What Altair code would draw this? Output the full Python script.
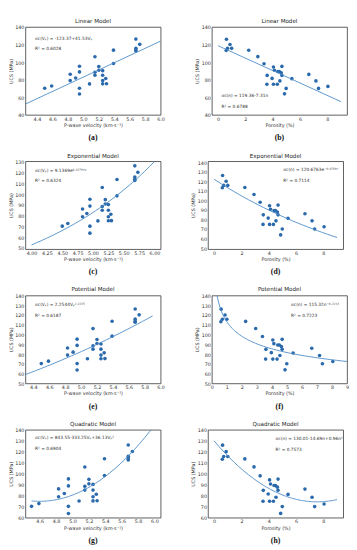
import altair as alt
import pandas as pd

# ---- data ----
vp = [4.50, 4.59, 4.83, 4.83, 4.90, 4.95, 4.95, 4.95, 4.95, 5.08, 5.15, 5.15, 5.15, 5.20,
      5.20, 5.25, 5.25, 5.25, 5.25, 5.29, 5.30, 5.39, 5.39, 5.68, 5.68, 5.68, 5.68, 5.73]
ucs_vp = [70.3, 72.8, 86.2, 79.0, 82.0, 95.3, 88.9, 70.3, 63.8, 75.2, 106.1, 88.5, 85.1, 94.9,
          90.8, 90.3, 85.1, 79.0, 75.3, 81.3, 75.4, 113.6, 98.4, 126.2, 115.8, 113.7, 112.6, 120.2]

poro = [0.62, 0.60, 0.70, 0.88, 1.00, 2.25, 2.92, 3.37, 3.60, 3.58, 3.96, 4.06, 4.13, 4.06,
        4.34, 4.39, 4.49, 4.53, 4.63, 4.68, 4.68, 4.87, 4.99, 5.41, 6.65, 7.17, 7.36, 8.05]
ucs_n = [126.0, 113.2, 115.7, 120.1, 115.7, 113.5, 106.2, 98.1, 84.9, 74.9, 81.5, 94.4, 90.7, 74.9,
         74.9, 89.3, 89.3, 78.6, 87.8, 95.1, 84.9, 63.9, 70.1, 81.2, 86.0, 78.6, 70.1, 72.4]

titles = ["Linear Model", "Linear Model", "Exponential Model", "Exponential Model",
          "Potential Model", "Potential Model", "Quadratic Model", "Quadratic Model"]
methods = ["linear", "linear", "exp", "exp", "pow", "pow", "quad", "quad"]
equations = [
    "σc(Vₚ) = -123.37+41.53Vₚ",
    "σc(n) = 119.36-7.31n",
    "σc(Vₚ) = 9.1369e⁰·⁴³⁷⁹ⱽᵖ",
    "σc(n) = 120.6763e⁻⁰·⁰⁷⁴⁸ⁿ",
    "σc(Vₚ) = 2.2544Vₚ²·²²³⁵",
    "σc(n) = 115.32n⁻⁰·²²¹⁴",
    "σc(Vₚ) = 843.55-333.25Vₚ+36.13Vₚ²",
    "σc(n) = 130.01-14.69n+0.96n²",
]
r2 = ["R² = 0.6028", "R² = 0.6788", "R² = 0.6324", "R² = 0.7114",
      "R² = 0.6187", "R² = 0.7223", "R² = 0.6904", "R² = 0.7573"]
captions = ["(a)", "(b)", "(c)", "(d)", "(e)", "(f)", "(g)", "(h)"]

x_domains = [[4.25, 6.0], [-0.45, 9.45], [3.9, 6.1], [-0.45, 9.45],
             [4.3, 6.0], [0, 9], [4.425, 6.075], [-0.45, 9.45]]
x_ticks = [[4.4, 4.6, 4.8, 5.0, 5.2, 5.4, 5.6, 5.8, 6.0], [0, 2, 4, 6, 8],
           [4.0, 4.25, 4.5, 4.75, 5.0, 5.25, 5.5, 5.75, 6.0], [0, 2, 4, 6, 8],
           [4.4, 4.6, 4.8, 5.0, 5.2, 5.4, 5.6, 5.8, 6.0], [0, 1, 2, 3, 4, 5, 6, 7, 8, 9],
           [4.6, 4.8, 5.0, 5.2, 5.4, 5.6, 5.8, 6.0], [0, 2, 4, 6, 8]]
x_formats = [".1f", "d", ".2f", "d", ".1f", "d", ".1f", "d"]
extents = [[4.25, 6.0], [0, 9], [4.0, 6.0], [0, 9], [4.3, 5.9], [0.3, 9], [4.5, 6.0], [0, 9]]
y_domains = [[40, 140], [40, 140], [49, 130.5], [49, 141], [50, 140], [50, 140], [60, 140], [60, 140]]
y_ticks = [list(range(40, 141, 20)), list(range(40, 141, 20)), list(range(50, 131, 10)),
           list(range(50, 141, 10)), list(range(50, 141, 10)), list(range(50, 141, 10)),
           list(range(60, 141, 10)), list(range(60, 141, 10))]
eq_pos = [(10, 12), (10, 72), (10, 10), (78, 9), (10, 10), (82, 10), (10, 9), (70, 10)]

W, H = 140, 91
PT_COLOR = "#2a6aac"
LN_COLOR = "#4a8bc6"

df_vp = pd.DataFrame({"x": vp, "y": ucs_vp})
df_n = pd.DataFrame({"x": poro, "y": ucs_n})

AX = dict(labelOverlap=False, labelFlush=False, labelBound=False, domain=False, ticks=False,
          grid=False, labelFontSize=5, labelColor="#333", titleFontSize=5,
          titleFontWeight="normal", titleColor="#333", labelPadding=1.5, titlePadding=1.5,
          labelFont="DejaVu Sans", titleFont="DejaVu Sans", tickCount=20)


def panel(i):
    df = df_vp if i % 2 == 0 else df_n
    xtitle = "P-wave velocity (km·s⁻¹)" if i % 2 == 0 else "Porosity (%)"
    xs = alt.Scale(domain=x_domains[i], nice=False, zero=False)
    ys = alt.Scale(domain=y_domains[i], nice=False, zero=False)
    xenc = alt.X("x:Q", scale=xs, axis=alt.Axis(values=x_ticks[i], format=x_formats[i],
                                                title=xtitle, **AX))
    yenc = alt.Y("y:Q", scale=ys, axis=alt.Axis(values=y_ticks[i], format="d",
                                                title="UCS (MPa)", **AX))
    base = alt.Chart(df)
    pts = base.mark_circle(size=14, color=PT_COLOR, opacity=1).encode(x=xenc, y=yenc)
    line = base.transform_regression("x", "y", method=methods[i], extent=extents[i]).mark_line(
        clip=True, color=LN_COLOR, strokeWidth=0.9).encode(x=alt.X("x:Q"), y=alt.Y("y:Q"))
    px, py = eq_pos[i]
    txt1 = alt.Chart(pd.DataFrame({"t": [equations[i]]})).mark_text(
        align="left", baseline="middle", fontSize=4.5, color="#333", font="DejaVu Sans").encode(
        x=alt.value(px), y=alt.value(py), text="t:N")
    txt2 = alt.Chart(pd.DataFrame({"t": [r2[i]]})).mark_text(
        align="left", baseline="middle", fontSize=4.5, color="#333", font="DejaVu Sans").encode(
        x=alt.value(px), y=alt.value(py + 11), text="t:N")
    cap = alt.Chart(pd.DataFrame({"t": [captions[i]]})).mark_text(
        align="center", baseline="middle", fontSize=8, fontWeight="bold", font="Liberation Serif",
        color="#111").encode(x=alt.value(W / 2), y=alt.value(H + 24), text="t:N")
    return alt.layer(pts, line, txt1, txt2, cap).properties(
        width=W, height=H,
        title=alt.Title(titles[i], fontSize=5.8, fontWeight="normal", font="DejaVu Sans",
                        color="#222", offset=1.5))


rows = [alt.hconcat(panel(2 * r), panel(2 * r + 1), spacing=30) for r in range(4)]
chart = alt.vconcat(*rows, spacing=9).properties(padding=0).configure_view(
    stroke="#333", strokeWidth=0.8)

chart.save("out.html", embed_options={"renderer": "svg", "actions": False})
